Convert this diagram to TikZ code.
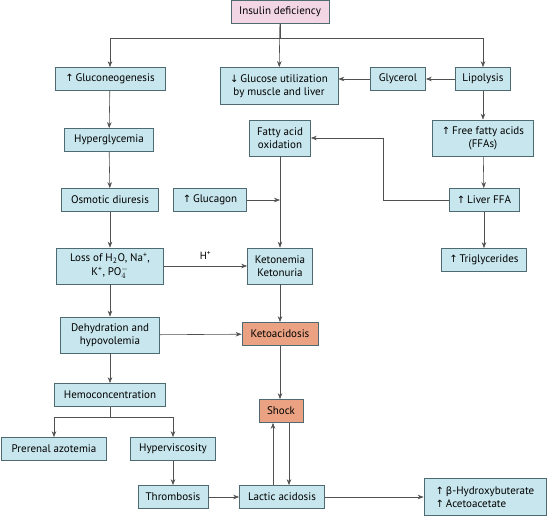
\documentclass[tikz,border=0pt]{standalone}
\usepackage{fontspec}
\setmainfont{PT Sans}
\newfontfamily\sym{DejaVu Sans}
\definecolor{boxfill}{HTML}{C8E6ED}
\definecolor{boxline}{HTML}{4F6B72}
\definecolor{alarm}{HTML}{EBA283}
\definecolor{rosy}{HTML}{F3D6E4}
\definecolor{wire}{HTML}{505050}
\usepackage{tikz}
\usetikzlibrary{calc, positioning, arrows.meta}
\newcommand{\up}{{\sym\fontsize{10}{10}\selectfont ↑}\,}
\newcommand{\down}{{\sym\fontsize{10}{10}\selectfont ↓}\,}

\begin{document}
\begin{tikzpicture}[x=1pt, y=-1pt,
  >={Stealth[length=6pt,width=4.5pt]},
  item/.style={draw=boxline, fill=boxfill, line width=0.7pt, align=center,
               font=\fontsize{11}{13}\selectfont, inner sep=2pt, minimum height=23pt},
  alarm/.style={item, fill=alarm},
  top/.style={item, fill=rosy},
  conn/.style={draw=wire, line width=0.6pt, ->}
]
\useasboundingbox (0,0) rectangle (547,517);

\node[top, minimum width=98pt] (ins) at (280,12) {Insulin deficiency};

\node[item, minimum width=110pt] (glu) at (110,79) {\up Gluconeogenesis};
\node[item, minimum width=118pt, minimum height=37pt] (gut) at (279,86) {\down Glucose utilization\\by muscle and liver};
\node[item, minimum width=55pt] (gly) at (398,79) {Glycerol};
\node[item, minimum width=55pt] (lip) at (483,79) {Lipolysis};

\node[item, minimum width=89pt] (hyp) at (109,140) {Hyperglycemia};
\node[item, minimum width=61pt, minimum height=36pt] (fao) at (280,138) {Fatty acid\\oxidation};
\node[item, minimum width=101pt, minimum height=36pt] (ffa) at (483,138) {\up Free fatty acids\\(FFAs)};

\node[item, minimum width=97pt] (osm) at (110,200) {Osmotic diuresis};
\node[item, minimum width=73pt] (glc) at (210,200) {\up Glucagon};
\node[item, minimum width=70pt] (lffa) at (484,200) {\up Liver FFA};

\node[item, minimum width=107pt, minimum height=36pt] (loss) at (110,266) {Loss of H\textsubscript{2}O, Na\textsuperscript{+},\\[1.5pt]K\textsuperscript{+}, PO$_{4}^{-}$};
\node[item, minimum width=65pt, minimum height=36pt] (ket) at (280,266) {Ketonemia\\Ketonuria};
\node[item, minimum width=85pt] (trig) at (484,260) {\up Triglycerides};

\node[item, minimum width=99pt, minimum height=36pt] (dehy) at (110,335) {Dehydration and\\hypovolemia};
\node[alarm, minimum width=76pt] (keto) at (280,334) {Ketoacidosis};

\node[item, minimum width=111pt] (hemo) at (110,395) {Hemoconcentration};
\node[alarm, minimum width=44pt] (shock) at (281,411) {Shock};

\node[item, minimum width=105pt] (pre) at (54,449) {Prerenal azotemia};
\node[item, minimum width=85pt] (hv) at (173,449) {Hyperviscosity};

\node[item, minimum width=70pt] (thr) at (173,497) {Thrombosis};
\node[item, minimum width=85pt] (lac) at (282,497) {Lactic acidosis};
\node[item, minimum width=122pt, minimum height=37pt, align=left] (beta) at (485,497) {\up{\sym\fontsize{10}{10}\selectfont β}-Hydroxybuterate\\\up Acetoacetate};

\draw[conn] (ins.south) |- (glu.north |- 0,38) -- (glu.north);
\draw[conn] (ins.south) |- (lip.north |- 0,38) -- (lip.north);
\draw[conn] (ins) -- (gut);
\draw[conn] (lip) -- (gly);
\draw[conn] (gly) -- (gly -| gut.east);
\draw[conn] (lip) -- (ffa);
\draw[conn] (ffa) -- (lffa);
\draw[conn] (lffa) -- (trig);
\draw[conn] (lffa.west) -- ++(-65,0) |- (fao.east);

\draw[conn] (glu) -- (hyp);
\draw[conn] (hyp) -- (osm);
\draw[conn] (osm) -- (loss);
\draw[conn] (loss) -- (dehy);
\draw[conn] (dehy) -- (hemo);

\draw[conn] (fao) -- (ket);
\draw[conn] (glc.east) -- (glc.east -| fao.south);
\draw[conn] (loss) -- node[above, font=\fontsize{10.5}{11}\selectfont, yshift=3pt] {H\textsuperscript{+}} (ket);
\draw[conn] (ket) -- (keto);
\draw[conn] (dehy) -- (keto);
\draw[conn] (keto) -- (keto |- shock.north);

\draw[conn] (hemo.south) -- ++(0,10) -| (pre.north);
\draw[conn] (hemo.south) -- ++(0,10) -| (hv.north);
\draw[conn] (hv) -- (thr);
\draw[conn] (thr) -- (lac);
\draw[conn] (lac) -- (beta);
\draw[conn] ([xshift=8pt]shock.south) -- ([xshift=7pt]lac.north);
\draw[conn] ([xshift=-9pt]lac.north) -- ([xshift=-8pt]shock.south);
\end{tikzpicture}
\end{document}
